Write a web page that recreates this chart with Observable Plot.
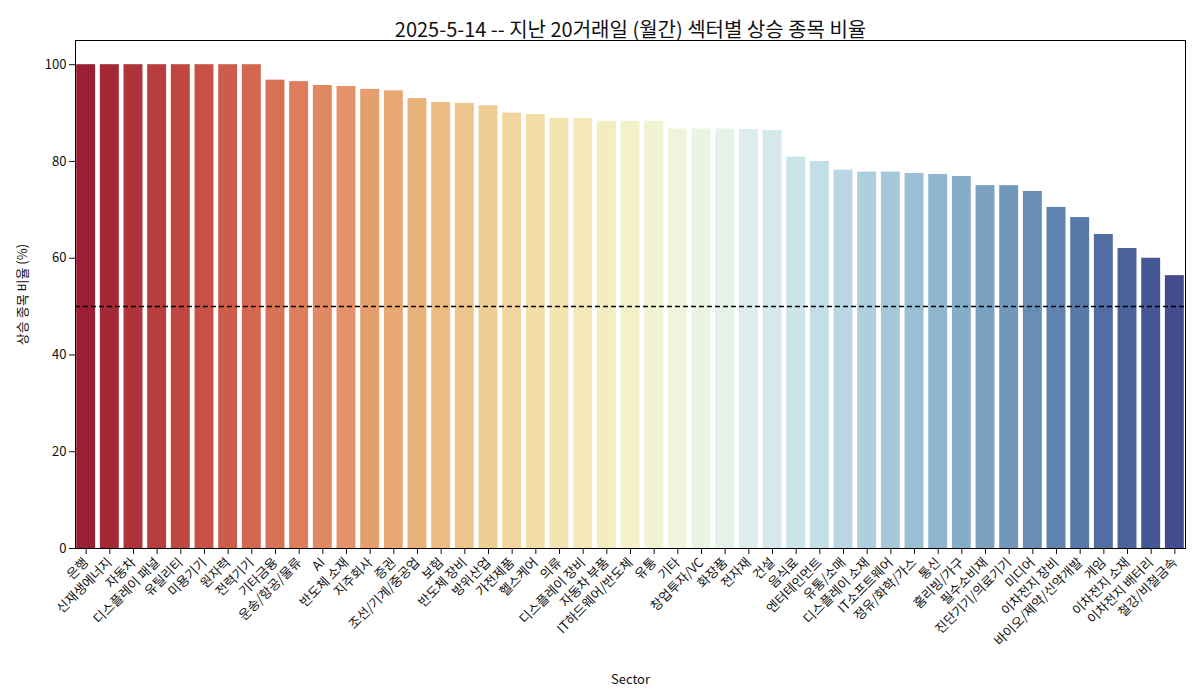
<!DOCTYPE html>
<html>
<head>
<meta charset="utf-8">
<script src="https://cdn.jsdelivr.net/npm/d3@7"></script>
<script src="https://cdn.jsdelivr.net/npm/@observablehq/plot@0.6"></script>
<style>
  body { margin: 0; background: #fff; font-family: "Noto Sans CJK KR", sans-serif; }
</style>
</head>
<body>
<div id="vis"></div>
<script>
const sectors = ['은행','신재생에너지','자동차','디스플레이 패널','유틸리티','미용기기','원자력','전력기기','기타금융','운송/항공/물류',
  'AI','반도체 소재','지주회사','증권','조선/기계/중공업','보험','반도체 장비','방위산업','가전제품','헬스케어',
  '의류','디스플레이 장비','자동차 부품','IT하드웨어/반도체','유통','기타','창업투자/VC','화장품','전자재','건설',
  '음식료','엔터테인먼트','유통/소매','디스플레이 소재','IT소프트웨어','정유/화학/가스','통신','홈리빙/가구','필수소비재','진단기기/의료기기',
  '미디어','이차전지 장비','바이오/제약/신약개발','게임','이차전지 소재','이차전지 배터리','철강/비철금속']
const ratios = [100,100,100,100,100,100,100,100,96.8,96.5,
  95.7,95.5,94.9,94.6,93.0,92.2,92.0,91.5,90.0,89.7,
  88.9,88.9,88.3,88.3,88.3,86.7,86.7,86.7,86.6,86.4,
  80.9,80.0,78.2,77.8,77.8,77.5,77.3,76.9,75.0,75.0,
  73.8,70.5,68.4,64.9,62.0,60.0,56.4]
const yTicks = [0,20,40,60,80,100]
const title = '2025-5-14 -- 지난 20거래일 (월간) 섹터별 상승 종목 비율'

const n = sectors.length
// seaborn-like desaturated RdYlBu
const colorAt = i => {
  const c = d3.hsl(d3.interpolateRdYlBu(0.02 + 0.96 * i / (n - 1)))
  c.s *= 0.75
  return c.formatHex()
}
const data = sectors.map((s, i) => ({sector: s, ratio: ratios[i], color: colorAt(i)}))

const chart = Plot.plot({
  width: 1200,
  height: 700,
  marginTop: 40,
  marginLeft: 75,
  marginRight: 15,
  marginBottom: 152,
  style: {fontFamily: '"Noto Sans CJK KR", sans-serif', fontSize: '13px', color: '#111'},
  x: {domain: sectors, paddingInner: 0.2, paddingOuter: 0.05, label: 'Sector', labelAnchor: 'center', labelOffset: 135, tickRotate: -45},
  y: {domain: [0, 105], ticks: yTicks, label: '상승 종목 비율 (%)', labelArrow: 'none', labelAnchor: 'center', labelOffset: 58},
  marks: [
    Plot.barY(data, {x: 'sector', y: 'ratio', fill: 'color'}),
    Plot.ruleY([50], {stroke: 'black', strokeWidth: 1.5, strokeDasharray: '5,3'}),
    Plot.frame({stroke: 'black'}),
    Plot.text([title], {frameAnchor: 'top', dy: -18, fontSize: 20, fill: '#111'})
  ]
})
d3.select('#vis').append(() => chart)
</script>
</body>
</html>
